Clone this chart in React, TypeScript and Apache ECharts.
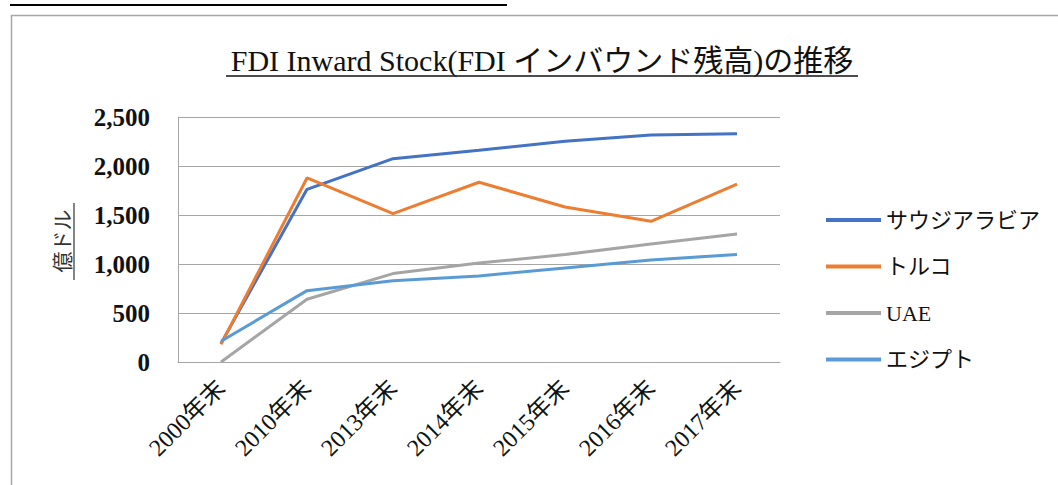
import { useEffect, useRef } from "react";
import * as echarts from "echarts";

const categories = ["2000年末", "2010年末", "2013年末", "2014年末", "2015年末", "2016年末", "2017年末"];
const seriesNames = ["サウジアラビア", "トルコ", "UAE", "エジプト"];
const saudi = [190, 1762, 2075, 2160, 2252, 2316, 2330];
const turkey = [180, 1878, 1514, 1834, 1582, 1436, 1816];
const uae = [0, 640, 902, 1010, 1096, 1204, 1305];
const egypt = [212, 728, 830, 878, 959, 1041, 1098];
const yMin = 0;
const yMax = 2500;
const yInterval = 500;
const titleText = "FDI Inward Stock(FDI インバウンド残高)の推移";
const yName = "億ドル";

const colors = ["#4472C4", "#ED7D31", "#A5A5A5", "#5B9BD5"];
const serif = "'Liberation Serif', 'Noto Sans CJK JP', serif";

export default function App() {
  const ref = useRef<HTMLDivElement>(null);
  useEffect(() => {
    if (!ref.current) return;
    const chart = echarts.init(ref.current, undefined, { renderer: "svg" });
    const data = [saudi, turkey, uae, egypt];
    chart.setOption({
      animation: false,
      backgroundColor: "#fff",
      color: colors,
      grid: { left: 178, right: 278, top: 117, bottom: 123, containLabel: false },
      legend: {
        data: seriesNames,
        orient: "vertical",
        left: 821,
        top: 203,
        icon: "rect",
        itemWidth: 55,
        itemHeight: 4,
        itemGap: 22.5,
        textStyle: { fontFamily: serif, fontSize: 22, color: "#111", lineHeight: 24 },
      },
      xAxis: {
        type: "category",
        data: categories,
        boundaryGap: true,
        axisLine: { show: true, lineStyle: { color: "#a6a6a6", width: 1 } },
        axisTick: { show: false },
        axisLabel: {
          rotate: 45,
          margin: 22,
          fontFamily: serif,
          fontSize: 24,
          color: "#111",
          interval: 0,
        },
      },
      yAxis: {
        type: "value",
        min: yMin,
        max: yMax,
        interval: yInterval,
        axisLine: { show: true, lineStyle: { color: "#a6a6a6", width: 1 } },
        axisTick: { show: false },
        splitLine: { show: true, lineStyle: { color: "#a6a6a6", width: 1 } },
        axisLabel: {
          margin: 28,
          fontFamily: serif,
          fontSize: 25,
          fontWeight: "bold",
          color: "#111",
          formatter: (v: number) => v.toLocaleString("en-US"),
        },
      },
      series: seriesNames.map((name, i) => ({
        name,
        type: "line",
        data: data[i],
        symbol: "none",
        lineStyle: { width: 3, color: colors[i] },
        itemStyle: { color: colors[i] },
      })),
      graphic: [
        {
          type: "rect",
          shape: { x: 11.5, y: 15.5, width: 1100, height: 520 },
          style: { fill: "none", stroke: "#a6a6a6", lineWidth: 1.5 },
          silent: true,
        },
        {
          type: "rect",
          shape: { x: 10, y: 4, width: 497, height: 2 },
          style: { fill: "#000" },
          silent: true,
        },
        {
          type: "text",
          x: 542,
          y: 60,
          style: {
            text: titleText,
            fontFamily: serif,
            fontSize: 30,
            fill: "#111",
            textAlign: "center",
            textVerticalAlign: "middle",
          },
        },
        {
          type: "line",
          shape: { x1: 226, y1: 76, x2: 858, y2: 76 },
          style: { stroke: "#111", lineWidth: 1.5 },
        },
        {
          type: "text",
          x: 63,
          y: 241,
          rotation: Math.PI / 2,
          style: {
            text: yName,
            fontFamily: serif,
            fontSize: 21,
            fill: "#333",
            textAlign: "center",
            textVerticalAlign: "middle",
          },
        },
        {
          type: "line",
          shape: { x1: 74, y1: 203, x2: 74, y2: 280 },
          style: { stroke: "#333", lineWidth: 1.2 },
        },
      ],
    });
    return () => chart.dispose();
  }, []);
  return (
    <div
      ref={ref}
      style={{ position: "absolute", left: 0, top: 0, width: 1058, height: 485 }}
    />
  );
}
